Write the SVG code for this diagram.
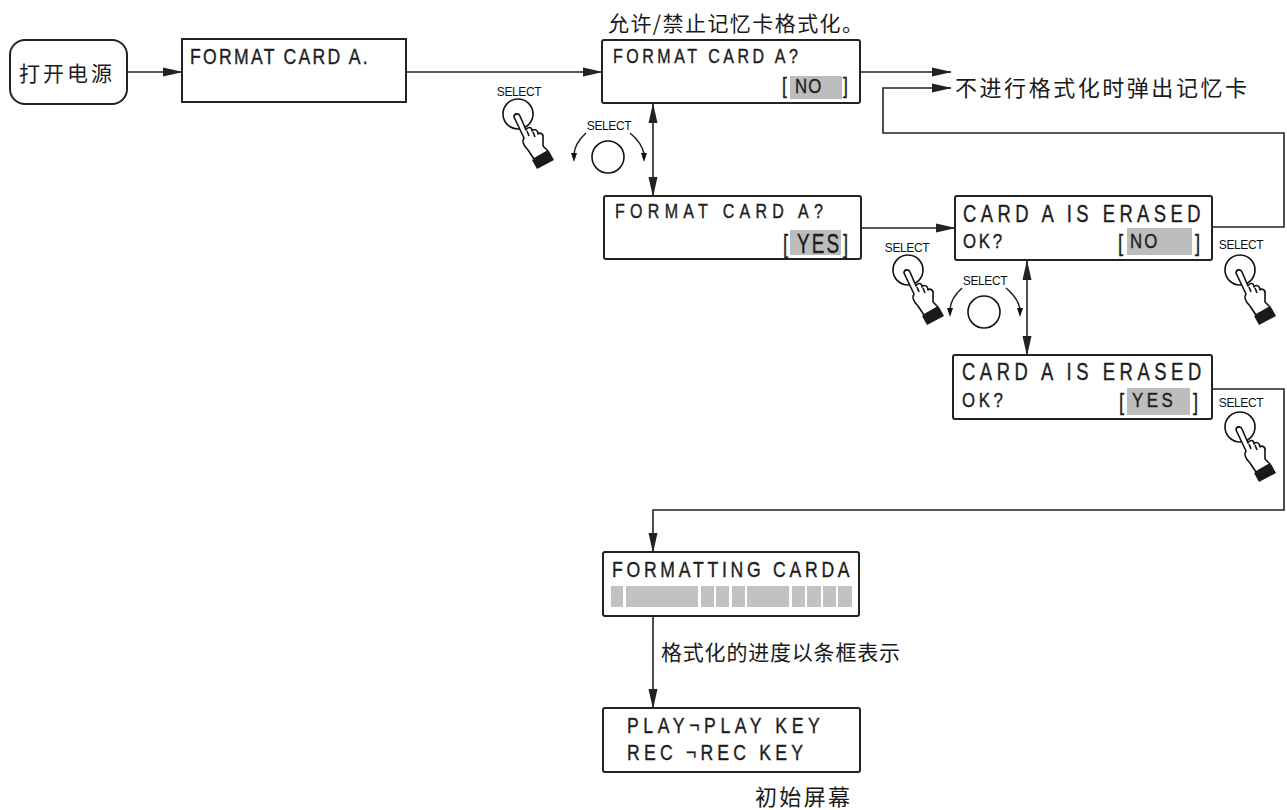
<svg xmlns="http://www.w3.org/2000/svg" xmlns:xlink="http://www.w3.org/1999/xlink" width="1287" height="810" viewBox="0 0 1287 810">
<style>
.box{fill:#fff;stroke:#222;stroke-width:2}
.lcd{font-family:"Liberation Sans",Arial,sans-serif;fill:#1e1e1e;stroke:#1e1e1e;stroke-width:0.4}
.cjk{font-family:"Noto Sans CJK SC","Noto Sans",sans-serif;fill:#1a1a1a}
.sel{font-family:"Liberation Sans",Arial,sans-serif;font-size:12px;fill:#111;text-anchor:middle;letter-spacing:-0.4px}
.hl{fill:#bdbdbd}
.bar{fill:#c2c2c2}
.wire{fill:none;stroke:#222;stroke-width:1.6}
.ico{fill:#fff;stroke:#111;stroke-width:1.6;stroke-linejoin:round}
</style>
<defs>
<marker id="ah" viewBox="0 0 20 10" refX="19" refY="5" markerWidth="20" markerHeight="10" markerUnits="userSpaceOnUse" orient="auto-start-reverse">
<path d="M0,0.5 L20,5 L0,9.5 Z" fill="#222"/>
</marker>
<g id="hand">
<circle class="ico" cx="0" cy="0" r="15"/>
<path class="ico" d="M -4,3 C -4,-1 1,-1 2,2 L 8,16 C 10,12 14,13 14,17 C 16,14 20,16 20,20 C 22,18 26,20 25,24 L 25,32 L 30,37 L 16,45 L 10,36 C 6,32 3,28 6,24 Z"/>
<path class="ico" d="M 9,17 L 11,22 M 15,18 L 17,23" />
<polygon points="14,46 31,37 36,46 19,55" fill="#1a1a1a"/>
</g>
<g id="rot">
<circle class="ico" cx="0" cy="0" r="16"/>
<path class="wire" d="M -22,-24 Q -33,-14 -34,-3"/>
<path class="wire" d="M 22,-24 Q 34,-14 36,-3"/>
<polygon points="-37,-4 -31,-4 -34,5" fill="#111"/>
<polygon points="33,-4 39,-4 36,5" fill="#111"/>
</g>
</defs>

<g id="connectors">
<line class="wire" x1="127" y1="72" x2="182" y2="72" marker-end="url(#ah)"/>
<line class="wire" x1="406" y1="72" x2="602" y2="72" marker-end="url(#ah)"/>
<line class="wire" x1="860" y1="72" x2="951" y2="72" marker-end="url(#ah)"/>
<polyline class="wire" points="1212,227 1284,227 1284,133 883,133 883,88 951,88" marker-end="url(#ah)"/>
<line class="wire" x1="653" y1="104" x2="653" y2="196" marker-start="url(#ah)" marker-end="url(#ah)"/>
<line class="wire" x1="861" y1="228" x2="955" y2="228" marker-end="url(#ah)"/>
<line class="wire" x1="1027" y1="261" x2="1027" y2="355" marker-start="url(#ah)" marker-end="url(#ah)"/>
<polyline class="wire" points="1212,389 1284,389 1284,510 653,510 653,552" marker-end="url(#ah)"/>
<line class="wire" x1="653" y1="616" x2="653" y2="708" marker-end="url(#ah)"/>
</g>

<g id="power">
<rect class="box" x="10" y="40" width="117" height="64" rx="15"/>
<text class="cjk" x="67" y="81" font-size="21" text-anchor="middle" letter-spacing="3">打开电源</text>
</g>

<g id="n1">
<rect class="box" x="182" y="39" width="224" height="63"/>
<text class="lcd" transform="translate(190,64) scale(0.8,1)" font-size="22" textLength="222" lengthAdjust="spacing">FORMAT CARD A.</text>
</g>

<g id="n2">
<text class="cjk" x="608" y="31" font-size="21" textLength="255" lengthAdjust="spacing">允许/禁止记忆卡格式化。</text>
<rect class="box" x="602" y="40" width="258" height="63" rx="2"/>
<text class="lcd" transform="translate(613,63) scale(0.8,1)" font-size="20" textLength="231" lengthAdjust="spacing">FORMAT CARD A?</text>
<rect class="hl" x="790" y="76" width="52" height="23"/>
<text class="lcd" transform="translate(782,93) scale(0.8,1)" font-size="22">[</text>
<text class="lcd" transform="translate(795,93) scale(0.8,1)" font-size="21" textLength="33" lengthAdjust="spacing">NO</text>
<text class="lcd" transform="translate(843,93) scale(0.8,1)" font-size="22">]</text>
</g>

<g id="label-eject">
<text class="cjk" x="955" y="96" font-size="22" textLength="292" lengthAdjust="spacing">不进行格式化时弹出记忆卡</text>
</g>

<g id="n3">
<rect class="box" x="604" y="196" width="257" height="63" rx="2"/>
<text class="lcd" transform="translate(615,218) scale(0.8,1)" font-size="20" textLength="260" lengthAdjust="spacing">FORMAT CARD A?</text>
<rect class="hl" x="790" y="230" width="51" height="25"/>
<text class="lcd" transform="translate(783,253) scale(0.7,1)" font-size="26">[</text>
<text class="lcd" transform="translate(797,253) scale(0.7,1)" font-size="27" textLength="60" lengthAdjust="spacing">YES</text>
<text class="lcd" transform="translate(843,253) scale(0.7,1)" font-size="26">]</text>
</g>

<g id="n4">
<rect class="box" x="955" y="196" width="257" height="64" rx="2"/>
<text class="lcd" transform="translate(963,222) scale(0.8,1)" font-size="23" textLength="297" lengthAdjust="spacing">CARD A IS ERASED</text>
<text class="lcd" transform="translate(963,248) scale(0.8,1)" font-size="21" textLength="49" lengthAdjust="spacing">OK?</text>
<rect class="hl" x="1127" y="228" width="65" height="27"/>
<text class="lcd" transform="translate(1118,251) scale(0.8,1)" font-size="23">[</text>
<text class="lcd" transform="translate(1130,248) scale(0.8,1)" font-size="21" textLength="34" lengthAdjust="spacing">NO</text>
<text class="lcd" transform="translate(1195,251) scale(0.8,1)" font-size="23">]</text>
</g>

<g id="n5">
<rect class="box" x="953" y="355" width="259" height="64" rx="2"/>
<text class="lcd" transform="translate(962,380) scale(0.8,1)" font-size="23" textLength="299" lengthAdjust="spacing">CARD A IS ERASED</text>
<text class="lcd" transform="translate(962,407) scale(0.8,1)" font-size="21" textLength="51" lengthAdjust="spacing">OK?</text>
<rect class="hl" x="1127" y="388" width="63" height="27"/>
<text class="lcd" transform="translate(1119,410) scale(0.8,1)" font-size="23">[</text>
<text class="lcd" transform="translate(1132,407) scale(0.8,1)" font-size="21" textLength="51" lengthAdjust="spacing">YES</text>
<text class="lcd" transform="translate(1193,410) scale(0.8,1)" font-size="23">]</text>
</g>

<g id="n6">
<rect class="box" x="603" y="552" width="256" height="64" rx="2"/>
<text class="lcd" transform="translate(612,577) scale(0.8,1)" font-size="22" textLength="297" lengthAdjust="spacing">FORMATTING CARDA</text>
<rect class="bar" x="611" y="586" width="12" height="21"/>
<rect class="bar" x="626" y="586" width="72" height="21"/>
<rect class="bar" x="701" y="586" width="13" height="21"/>
<rect class="bar" x="716" y="586" width="13" height="21"/>
<rect class="bar" x="732" y="586" width="13" height="21"/>
<rect class="bar" x="747" y="586" width="42" height="21"/>
<rect class="bar" x="792" y="586" width="13" height="21"/>
<rect class="bar" x="807" y="586" width="14" height="21"/>
<rect class="bar" x="823" y="586" width="13" height="21"/>
<rect class="bar" x="838" y="586" width="14" height="21"/>
</g>

<g id="label-progress">
<text class="cjk" x="661" y="660" font-size="21" textLength="239" lengthAdjust="spacing">格式化的进度以条框表示</text>
</g>

<g id="n7">
<rect class="box" x="603" y="708" width="257" height="64" rx="2"/>
<text class="lcd" transform="translate(627,733) scale(0.8,1)" font-size="22" textLength="241" lengthAdjust="spacing">PLAY¬PLAY KEY</text>
<text class="lcd" transform="translate(627,760) scale(0.8,1)" font-size="22" textLength="220" lengthAdjust="spacing">REC ¬REC KEY</text>
<text class="cjk" x="755" y="805" font-size="22" textLength="95" lengthAdjust="spacing">初始屏幕</text>
</g>

<g id="icons">
<text class="sel" x="519" y="96">SELECT</text>
<use xlink:href="#hand" href="#hand" transform="translate(518,114)"/>
<text class="sel" x="609" y="130" font-size="11">SELECT</text>
<use xlink:href="#rot" href="#rot" transform="translate(608,157)"/>
<text class="sel" x="907" y="252">SELECT</text>
<use xlink:href="#hand" href="#hand" transform="translate(908,270)"/>
<text class="sel" x="985" y="285" font-size="11">SELECT</text>
<use xlink:href="#rot" href="#rot" transform="translate(984,312)"/>
<text class="sel" x="1241" y="249">SELECT</text>
<use xlink:href="#hand" href="#hand" transform="translate(1240,270)"/>
<text class="sel" x="1241" y="407">SELECT</text>
<use xlink:href="#hand" href="#hand" transform="translate(1240,427)"/>
</g>
</svg>
